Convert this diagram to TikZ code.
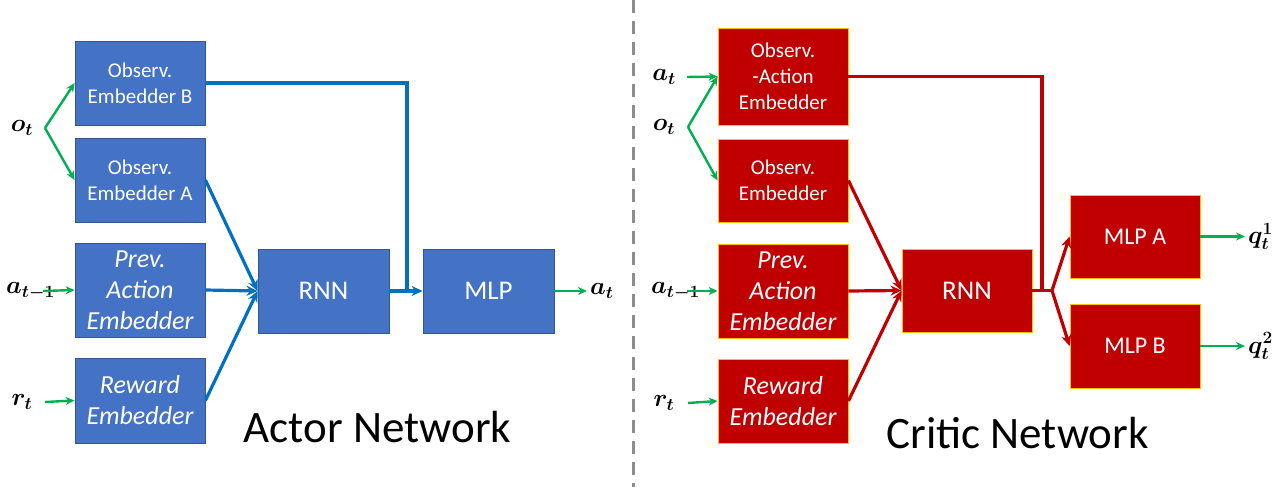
\documentclass[tikz,border=0pt]{standalone}
\usepackage{amsmath}
\usepackage{bm}
\usepackage{fontspec}
\setmainfont{Carlito}
\usetikzlibrary{arrows.meta}
\definecolor{actorblue}{HTML}{4472C4}
\definecolor{actorline}{HTML}{0070C0}
\definecolor{criticred}{HTML}{C00000}
\definecolor{criticedge}{HTML}{FFC000}
\definecolor{ingreen}{HTML}{00B050}
\definecolor{divgray}{HTML}{8C8C8C}

\tikzset{
  actorbox/.style={draw=actorblue!75!black, line width=0.8pt, fill=actorblue, text=white,
    minimum width=130, minimum height=84, inner sep=0pt, align=center,
    font=\fontsize{21}{26}\selectfont},
  criticbox/.style={actorbox, draw=criticedge, fill=criticred},
  slanted/.style={font=\fontsize{26}{31}\selectfont\itshape},
  bigtext/.style={font=\fontsize{27}{31}\selectfont},
  symlabel/.style={inner sep=0pt, font=\fontsize{27}{30}\selectfont},
  title/.style={anchor=base, inner sep=0pt, font=\fontsize{45}{50}\selectfont},
  inarrow/.style={ingreen, line width=2.4pt, -{Stealth[length=9pt,width=8pt]}},
  actorarrow/.style={actorline, line width=3.2pt, -{Stealth[length=11pt,width=10pt]}},
  criticarrow/.style={criticred, line width=3.2pt, -{Stealth[length=11pt,width=10pt]}},
}

\begin{document}
\begin{tikzpicture}[x=1pt, y=-1pt]
    \useasboundingbox (0,0) rectangle (1286,487);

    % divider
    \draw [divgray, line width=3pt, dash pattern=on 13pt off 8pt] (633,0) -- (633,487);

    % actor network
    \node [actorbox] (obsB) at (140,83) {Observ.\\Embedder B};
    \node [actorbox] (obsA) at (140,180) {Observ.\\Embedder A};
    \node [actorbox, slanted, minimum height=94] (prevA) at (140,290) {Prev.\\Action\\Embedder};
    \node [actorbox, slanted, minimum height=85] (rewA) at (140,400.5) {Reward\\Embedder};
    \node [actorbox, bigtext, minimum width=131] (rnnA) at (323.5,291) {RNN};
    \node [actorbox, bigtext, minimum width=131] (mlpA) at (488.5,291) {MLP};

    \node [symlabel] (oA) at (22,128) {$\bm{o_t}$};
    \node [symlabel, anchor=west] (aprevA) at (6,291) {$\bm{a_{t-1}}$};
    \node [symlabel] (rA) at (22,402) {$\bm{r_t}$};
    \node [symlabel, anchor=west] (aA) at (590,291) {$\bm{a_t}$};
    \coordinate (oforkA) at (45,128);
    \coordinate (aprevinA) at (43,291);
    \coordinate (rinA) at (45,402);
    \coordinate (aoutA) at (587,291);
    \coordinate (joinA) at (407,291);

    \draw [inarrow] (oforkA) -- (obsB.west);
    \draw [inarrow] (oforkA) -- (obsA.west);
    \draw [inarrow] (aprevinA) -- (prevA.west);
    \draw [inarrow] (rinA) -- (rewA.west);
    \draw [inarrow] (mlpA.east) -- (aoutA);

    \draw [actorarrow] (obsA.east) -- (rnnA.west);
    \draw [actorarrow] (prevA.east) -- (rnnA.west);
    \draw [actorarrow] (rewA.east) -- (rnnA.west);
    \draw [actorarrow] (rnnA.east) -- (mlpA.west);
    \draw [actorline, line width=3.2pt] (obsB.east) -| (joinA);

    \node [title] (titleA) at (377.5,442) {Actor Network};

    % critic network
    \node [criticbox, minimum height=97] (obsactC) at (783,76.5) {Observ.\\-Action\\Embedder};
    \node [criticbox, minimum height=83] (obsC) at (783,180.5) {Observ.\\Embedder};
    \node [criticbox, slanted, minimum height=94] (prevC) at (783,291) {Prev.\\Action\\Embedder};
    \node [criticbox, slanted] (rewC) at (783,401) {Reward\\Embedder};
    \node [criticbox, bigtext, minimum height=83] (rnnC) at (967,290.5) {RNN};
    \node [criticbox, font=\fontsize{24}{28}\selectfont, minimum height=83] (mlpaC) at (1135,236.5) {MLP A};
    \node [criticbox, font=\fontsize{24}{28}\selectfont] (mlpbC) at (1135,346) {MLP B};

    \node [symlabel] (aC) at (664,77) {$\bm{a_t}$};
    \node [symlabel] (oC) at (664,127) {$\bm{o_t}$};
    \node [symlabel, anchor=west] (aprevC) at (651,291) {$\bm{a_{t-1}}$};
    \node [symlabel] (rC) at (664,403) {$\bm{r_t}$};
    \node [symlabel, anchor=west] (q1C) at (1248,236.5) {$\bm{q_t^1}$};
    \node [symlabel, anchor=west] (q2C) at (1248,346) {$\bm{q_t^2}$};
    \coordinate (ainC) at (687,77);
    \coordinate (oforkC) at (688,127);
    \coordinate (aprevinC) at (687,291);
    \coordinate (rinC) at (688,403);
    \coordinate (q1outC) at (1245,236.5);
    \coordinate (q2outC) at (1245,346);
    \coordinate (joinC) at (1042,290.5);
    \coordinate (forkC) at (1052,290.5);

    \draw [inarrow] (ainC) -- (obsactC.west);
    \draw [inarrow] (oforkC) -- (obsactC.west);
    \draw [inarrow] (oforkC) -- (obsC.west);
    \draw [inarrow] (aprevinC) -- (prevC.west);
    \draw [inarrow] (rinC) -- (rewC.west);
    \draw [inarrow] (mlpaC.east) -- (q1outC);
    \draw [inarrow] (mlpbC.east) -- (q2outC);

    \draw [criticarrow] (obsC.east) -- (rnnC.west);
    \draw [criticarrow] (prevC.east) -- (rnnC.west);
    \draw [criticarrow] (rewC.east) -- (rnnC.west);
    \draw [criticred, line width=3.2pt] (obsactC.east) -| (joinC);
    \draw [criticred, line width=3.2pt] (rnnC.east) -- (forkC);
    \draw [criticarrow] (forkC) -- (mlpaC.west);
    \draw [criticarrow] (forkC) -- (mlpbC.west);

    \node [title] (titleC) at (1017.5,448) {Critic Network};
\end{tikzpicture}
\end{document}
